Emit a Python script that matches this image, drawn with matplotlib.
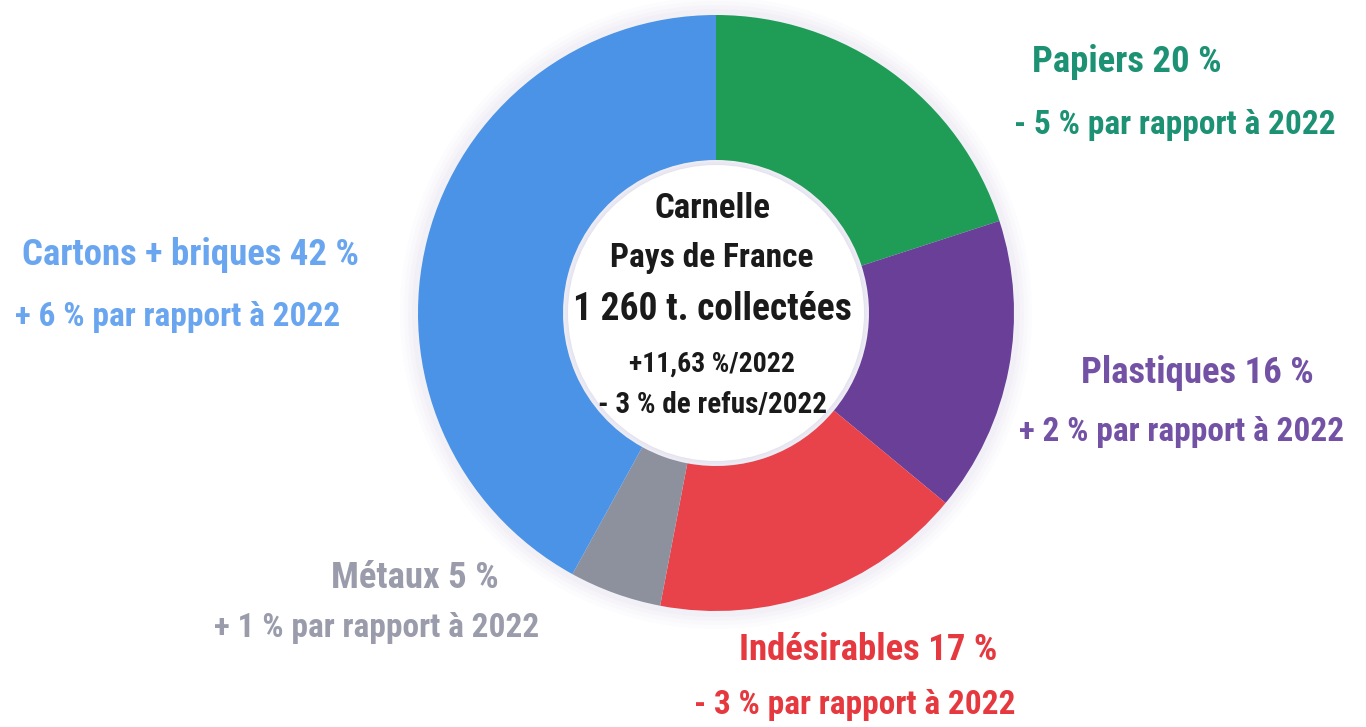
import matplotlib
matplotlib.use("Agg")
import matplotlib.pyplot as plt
from matplotlib.patches import Circle

# data, clockwise from 12 o'clock
categories = ['Papiers', 'Plastiques', 'Indésirables', 'Métaux', 'Cartons + briques']
shares = [20, 16, 17, 5, 42]
changes = ['- 5 % par rapport à 2022', '+ 2 % par rapport à 2022',
           '- 3 % par rapport à 2022', '+ 1 % par rapport à 2022',
           '+ 6 % par rapport à 2022']
center_lines = ['Carnelle', 'Pays de France', '1 260 t. collectées',
                '+11,63 %/2022', '- 3 % de refus/2022']

wedge_colors = ['#1f9d57', '#6a3f98', '#e8434b', '#8d919e', '#4a93e6']
text_colors = ['#1c9173', '#7352a6', '#e5393f', '#9a9cab', '#6aa6ef']

# label positions in pixels (x, y from top): title line, change line
label_pos = [
    ((1127, 62), (1175, 125)),
    ((1197, 373), (1182, 432)),
    ((868, 650), (855, 705)),
    ((415, 578), (377, 628)),
    ((191, 255), (178, 317)),
]

W, H = 1366, 727
fig = plt.figure(figsize=(W / 100, H / 100), dpi=100)
ax = fig.add_axes([0, 0, 1, 1])

font = dict(family=['Roboto Condensed', 'Roboto', 'DejaVu Sans'], weight='bold',
            stretch='condensed')

cx, cy, r = 716, H - 313, 298
hole = 153

# soft glow around the ring
for k, a in enumerate([0.05, 0.05, 0.06, 0.07]):
    ax.add_patch(Circle((cx, cy), r + 18 - 4 * k, color='#c9c3e6', alpha=a, lw=0, zorder=0))

ax.pie(shares, colors=wedge_colors, startangle=90, counterclock=False,
       center=(cx, cy), radius=r, frame=True,
       wedgeprops=dict(width=r - hole, linewidth=0))
ax.set_xlim(0, W)
ax.set_ylim(0, H)
ax.axis('off')

# soft shadow inside the hole
for k, a in enumerate([0.07, 0.07, 0.08]):
    ax.add_patch(Circle((cx, cy), hole - 2 * k, color='#b9b3d6', alpha=a, lw=0, zorder=3))
ax.add_patch(Circle((cx, cy), hole - 5, color='white', lw=0, zorder=4))

for name, share, change, col, (p1, p2) in zip(categories, shares, changes, text_colors, label_pos):
    ax.text(p1[0], H - p1[1], '%s %d %%' % (name, share), color=col, fontsize=26.5,
            ha='center', va='center', **font)
    ax.text(p2[0], H - p2[1], change, color=col, fontsize=24,
            ha='center', va='center', **font)

center_y = [208, 258, 310, 364, 405]
center_size = [25, 24, 27, 20, 21]
for line, y, s in zip(center_lines, center_y, center_size):
    ax.text(712, H - y, line, color='#1a1a1a', fontsize=s, ha='center', va='center',
            zorder=5, **font)

fig.savefig('out.png', dpi=100, facecolor='white')
